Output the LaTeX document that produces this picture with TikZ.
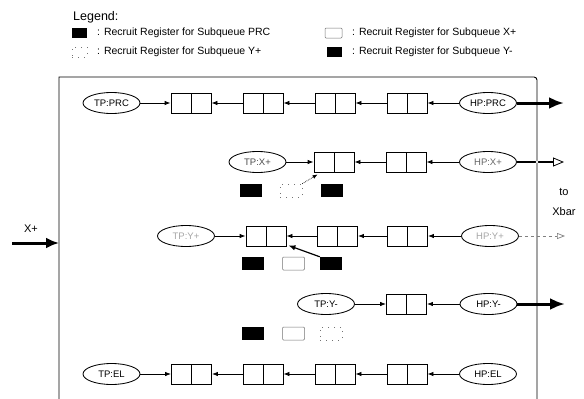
\documentclass[tikz,border=0pt]{standalone}
\usepackage{fontspec}
\setmainfont{Liberation Sans}
\usetikzlibrary{arrows.meta, shapes.geometric}

\tikzset{
  ptr/.style={ellipse, draw, line width=0.85pt, minimum width=57pt, minimum height=21pt,
              inner sep=1pt, font=\fontsize{9.5}{11}\selectfont},
  reg/.style={draw, line width=0.85pt, minimum width=40pt, minimum height=20pt, inner sep=0pt,
              path picture={\draw[line width=0.85pt] (path picture bounding box.north)
                            -- (path picture bounding box.south);}},
  link/.style={line width=0.85pt, -{Latex[length=6pt,width=4.5pt]}},
  rblack/.style={fill=black, minimum width=22pt, minimum height=13pt, inner sep=0pt},
  rwhite/.style={draw=black!55, line width=0.5pt, rounded corners=1pt,
                 minimum width=22pt, minimum height=13pt, inner sep=0pt},
  rdots/.style={draw=black!55, line width=0.6pt, dash pattern=on 1pt off 5pt,
                minimum width=22pt, minimum height=13pt, inner sep=0pt},
  legtext/.style={anchor=west, inner sep=0pt, font=\fontsize{10.5}{12}\selectfont},
  outfat/.style={line width=3pt, -{Latex[length=15pt,width=12pt]}}
}

\begin{document}
\begin{tikzpicture}[x=1pt, y=-1pt]
\useasboundingbox (0,0) rectangle (584,399);

% legend
\node[anchor=west, inner sep=0pt, font=\fontsize{12.5}{14}\selectfont] (legend) at (73,17) {Legend:};
\node[rblack, minimum width=15pt, minimum height=10pt] (lprc) at (79.5,33) {};
\node[legtext] (lprct) at (97,33) {: Recruit Register for Subqueue PRC};
\node[rwhite, minimum width=17pt, minimum height=10pt] (lxp) at (333.5,33) {};
\node[legtext] (lxpt) at (352,33) {: Recruit Register for Subqueue X+};
\node[rdots, minimum width=15pt, minimum height=10pt] (lyp) at (79.5,52) {};
\node[legtext] (lypt) at (97,52) {: Recruit Register for Subqueue Y+};
\node[rblack, minimum width=15pt, minimum height=10pt] (lym) at (334.5,52) {};
\node[legtext] (lymt) at (352,52) {: Recruit Register for Subqueue Y-};

% router frame
\draw[line width=0.9pt] (59,399) -- (59,77) -- (534,77) arc (270:360:3) -- (537,399);

% subqueue PRC
\node[ptr] (tpprc) at (111.5,103) {TP:PRC};
\node[reg] (prc1) at (191,103) {};
\node[reg] (prc2) at (263,103) {};
\node[reg] (prc3) at (335,103) {};
\node[reg] (prc4) at (407,103) {};
\node[ptr] (hpprc) at (488,103) {HP:PRC};
\draw[link] (tpprc) -- (prc1);
\draw[link] (prc2) -- (prc1);
\draw[link] (prc3) -- (prc2);
\draw[link] (prc4) -- (prc3);
\draw[link] (hpprc) -- (prc4);
\coordinate (oprc) at (564,103);
\draw[outfat] (hpprc) -- (oprc);

% subqueue X+
\node[ptr, text=black!70] (tpxp) at (257.5,162) {TP:X+};
\node[reg] (xp1) at (334,162) {};
\node[reg] (xp2) at (406,162) {};
\node[ptr, text=black!60] (hpxp) at (488,162) {HP:X+};
\draw[link] (tpxp) -- (xp1);
\draw[link] (xp2) -- (xp1);
\draw[link] (hpxp) -- (xp2);
\coordinate (oxp) at (564,162);
\draw[line width=1.8pt, -{Triangle[open, line width=0.8pt, length=11pt, width=9pt]}] (hpxp) -- (oxp);
\fill[white] (537,162) circle (1.3pt);
\node[rblack] (xr1) at (250.5,190.5) {};
\node[rdots] (xr2) at (291,190.5) {};
\node[rblack] (xr3) at (332,190.5) {};
\draw[densely dotted, line width=0.7pt, -{Latex[length=5pt,width=4pt]}]
  (xr2.north east) -- ([shift={(4pt,-2pt)}]xp1.south west);

% subqueue Y+
\node[ptr, text=black!35] (tpyp) at (186,236) {TP:Y+};
\node[reg] (yp1) at (266,236) {};
\node[reg] (yp2) at (337.5,236) {};
\node[reg] (yp3) at (407.5,236) {};
\node[ptr, text=black!35] (hpyp) at (490,236) {HP:Y+};
\draw[link] (tpyp) -- (yp1);
\draw[link] (yp2) -- (yp1);
\draw[link] (yp3) -- (yp2);
\draw[link] (hpyp) -- (yp3);
\coordinate (oyp) at (565,236);
\draw[black!50, line width=0.7pt, dashed, -{Triangle[open, length=8pt, width=6pt]}] (hpyp) -- (oyp);
\node[rblack] (yr1) at (252.5,263.5) {};
\node[rwhite] (yr2) at (293.5,263.5) {};
\node[rblack] (yr3) at (331,263.5) {};
\draw[line width=1.2pt, -{Latex[length=7pt,width=5.5pt]}]
  (yr3.north west) -- ([shift={(2pt,1pt)}]yp1.south east);

% subqueue Y-
\node[ptr] (tpym) at (326,304) {TP:Y-};
\node[reg] (ym1) at (406.5,304) {};
\node[ptr] (hpym) at (488.5,304) {HP:Y-};
\draw[link] (tpym) -- (ym1);
\draw[link] (hpym) -- (ym1);
\coordinate (oym) at (565,304);
\draw[outfat] (hpym) -- (oym);
\node[rblack] (mr1) at (252.5,333.5) {};
\node[rwhite] (mr2) at (293.5,333.5) {};
\node[rdots] (mr3) at (331,333.5) {};

% subqueue EL
\node[ptr] (tpel) at (111.5,374) {TP:EL};
\node[reg] (el1) at (191.5,374) {};
\node[reg] (el2) at (263,374) {};
\node[reg] (el3) at (335,374) {};
\node[reg] (el4) at (407,374) {};
\node[ptr] (hpel) at (488,374) {HP:EL};
\draw[link] (tpel) -- (el1);
\draw[link] (el2) -- (el1);
\draw[link] (el3) -- (el2);
\draw[link] (el4) -- (el3);
\draw[link] (hpel) -- (el4);

% ports
\node[font=\fontsize{11}{13}\selectfont] (to) at (564,192) {to};
\node[font=\fontsize{11}{13}\selectfont] (xbar) at (564,212) {Xbar};
\node[font=\fontsize{11}{13}\selectfont] (xin) at (31,229) {X+};
\coordinate (xsrc) at (12,243);
\coordinate (xdst) at (59,243);
\draw[line width=3pt, -{Latex[length=13pt,width=11pt]}] (xsrc) -- (xdst);
\end{tikzpicture}
\end{document}
